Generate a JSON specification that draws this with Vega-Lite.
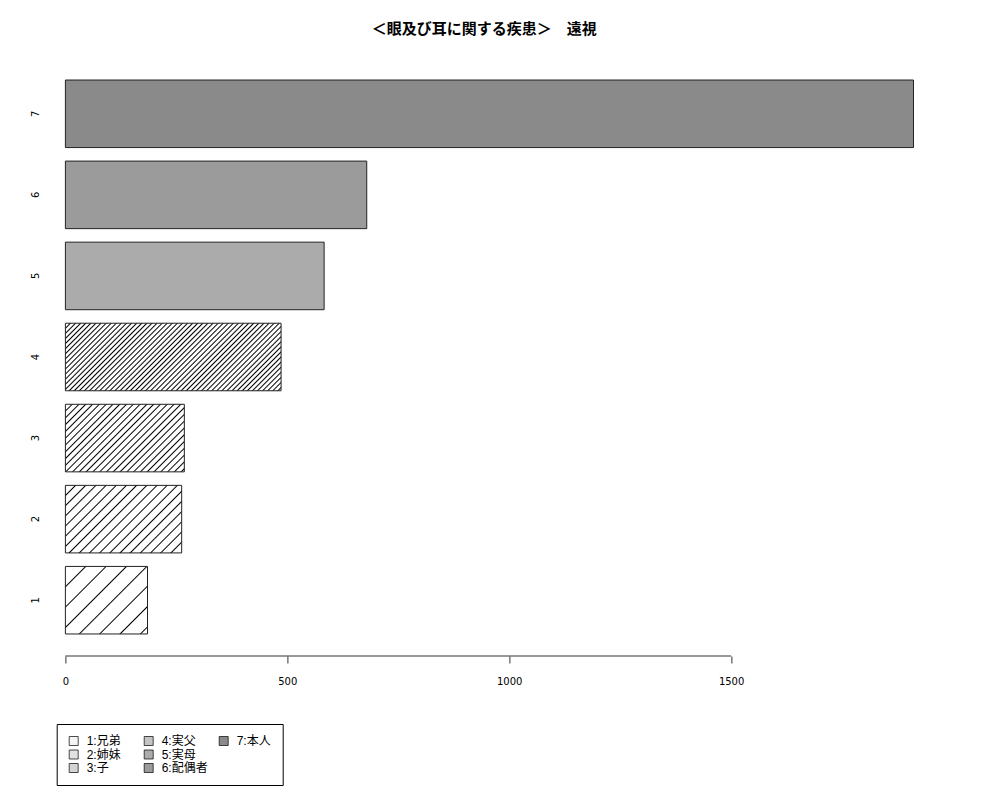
{
  "$schema": "https://vega.github.io/schema/vega-lite/v6.json",
  "width": 887.6,
  "height": 598,
  "autosize": {"type": "none"},
  "padding": {"left": 65.4, "top": 58, "right": 47, "bottom": 144},
  "title": {
    "text": "＜眼及び耳に関する疾患＞　遠視",
    "font": "Noto Sans CJK JP",
    "fontSize": 15,
    "fontWeight": "bold",
    "color": "#000",
    "anchor": "middle",
    "dx": -25,
    "offset": 21
  },
  "data": {
    "values": [
      {"k": "1", "label": "1:兄弟", "value": 185},
      {"k": "2", "label": "2:姉妹", "value": 262},
      {"k": "3", "label": "3:子", "value": 268},
      {"k": "4", "label": "4:実父", "value": 486},
      {"k": "5", "label": "5:実母", "value": 583},
      {"k": "6", "label": "6:配偶者", "value": 679},
      {"k": "7", "label": "7:本人", "value": 1911}
    ]
  },
  "layer": [
    {
      "mark": {"type": "bar", "stroke": "#222", "strokeWidth": 1},
      "encoding": {
        "y": {
          "field": "k",
          "type": "nominal",
          "sort": "descending",
          "scale": {"paddingInner": 0.1667, "paddingOuter": 0.2716},
          "axis": {
            "title": null,
            "domain": false,
            "ticks": false,
            "tickSize": 0,
            "labelAngle": -90,
            "labelAlign": "center",
            "labelBaseline": "bottom",
            "labelPadding": 25,
            "labelFont": "DejaVu Sans",
            "labelFontSize": 10,
            "labelColor": "#000"
          }
        },
        "x": {
          "field": "value",
          "type": "quantitative",
          "scale": {"domain": [0, 2000], "nice": false},
          "axis": {
            "title": null,
            "values": [0, 500, 1000, 1500],
            "format": "d",
            "domain": false,
            "grid": false,
            "tickSize": 7,
            "tickColor": "#333",
            "labelPadding": 13,
            "labelFlush": false,
            "labelFont": "DejaVu Sans",
            "labelFontSize": 10,
            "labelColor": "#000"
          }
        },
        "fill": {
          "condition": [
            {"test": "datum.k == '1'", "value": {"gradient": "linear", "x1": 0, "y1": 0, "x2": 1.1832, "y2": 0.9736, "stops": [
              {"offset": 0.1163, "color": "#fff"}, {"offset": 0.125, "color": "#000"}, {"offset": 0.1337, "color": "#fff"},
              {"offset": 0.2413, "color": "#fff"}, {"offset": 0.25, "color": "#000"}, {"offset": 0.2587, "color": "#fff"},
              {"offset": 0.3663, "color": "#fff"}, {"offset": 0.375, "color": "#000"}, {"offset": 0.3837, "color": "#fff"},
              {"offset": 0.4913, "color": "#fff"}, {"offset": 0.5, "color": "#000"}, {"offset": 0.5087, "color": "#fff"},
              {"offset": 0.6163, "color": "#fff"}, {"offset": 0.625, "color": "#000"}, {"offset": 0.6337, "color": "#fff"},
              {"offset": 0.7413, "color": "#fff"}, {"offset": 0.75, "color": "#000"}, {"offset": 0.7587, "color": "#fff"},
              {"offset": 0.8663, "color": "#fff"}, {"offset": 0.875, "color": "#000"}, {"offset": 0.8837, "color": "#fff"}
            ]}},
            {"test": "datum.k == '2'", "value": {"gradient": "linear", "x1": 0, "y1": 0, "x2": 1.1783, "y2": 0.6845, "stops": [
              {"offset": 0.0479, "color": "#fff"}, {"offset": 0.0556, "color": "#000"}, {"offset": 0.0633, "color": "#fff"},
              {"offset": 0.1034, "color": "#fff"}, {"offset": 0.1111, "color": "#000"}, {"offset": 0.1188, "color": "#fff"},
              {"offset": 0.159, "color": "#fff"}, {"offset": 0.1667, "color": "#000"}, {"offset": 0.1744, "color": "#fff"},
              {"offset": 0.2145, "color": "#fff"}, {"offset": 0.2222, "color": "#000"}, {"offset": 0.2299, "color": "#fff"},
              {"offset": 0.2701, "color": "#fff"}, {"offset": 0.2778, "color": "#000"}, {"offset": 0.2855, "color": "#fff"},
              {"offset": 0.3256, "color": "#fff"}, {"offset": 0.3333, "color": "#000"}, {"offset": 0.341, "color": "#fff"},
              {"offset": 0.3812, "color": "#fff"}, {"offset": 0.3889, "color": "#000"}, {"offset": 0.3966, "color": "#fff"},
              {"offset": 0.4367, "color": "#fff"}, {"offset": 0.4444, "color": "#000"}, {"offset": 0.4521, "color": "#fff"},
              {"offset": 0.4923, "color": "#fff"}, {"offset": 0.5, "color": "#000"}, {"offset": 0.5077, "color": "#fff"},
              {"offset": 0.5479, "color": "#fff"}, {"offset": 0.5556, "color": "#000"}, {"offset": 0.5633, "color": "#fff"},
              {"offset": 0.6034, "color": "#fff"}, {"offset": 0.6111, "color": "#000"}, {"offset": 0.6188, "color": "#fff"},
              {"offset": 0.659, "color": "#fff"}, {"offset": 0.6667, "color": "#000"}, {"offset": 0.6744, "color": "#fff"},
              {"offset": 0.7145, "color": "#fff"}, {"offset": 0.7222, "color": "#000"}, {"offset": 0.7299, "color": "#fff"},
              {"offset": 0.7701, "color": "#fff"}, {"offset": 0.7778, "color": "#000"}, {"offset": 0.7855, "color": "#fff"},
              {"offset": 0.8256, "color": "#fff"}, {"offset": 0.8333, "color": "#000"}, {"offset": 0.841, "color": "#fff"},
              {"offset": 0.8812, "color": "#fff"}, {"offset": 0.8889, "color": "#000"}, {"offset": 0.8966, "color": "#fff"},
              {"offset": 0.9367, "color": "#fff"}, {"offset": 0.9444, "color": "#000"}, {"offset": 0.9521, "color": "#fff"}
            ]}},
            {"test": "datum.k == '3'", "value": {"gradient": "linear", "x1": 0, "y1": 0, "x2": 1.2084, "y2": 0.6866, "stops": [
              {"offset": 0.0283, "color": "#fff"}, {"offset": 0.0357, "color": "#000"}, {"offset": 0.0431, "color": "#fff"},
              {"offset": 0.064, "color": "#fff"}, {"offset": 0.0714, "color": "#000"}, {"offset": 0.0788, "color": "#fff"},
              {"offset": 0.0997, "color": "#fff"}, {"offset": 0.1071, "color": "#000"}, {"offset": 0.1145, "color": "#fff"},
              {"offset": 0.1355, "color": "#fff"}, {"offset": 0.1429, "color": "#000"}, {"offset": 0.1503, "color": "#fff"},
              {"offset": 0.1712, "color": "#fff"}, {"offset": 0.1786, "color": "#000"}, {"offset": 0.186, "color": "#fff"},
              {"offset": 0.2069, "color": "#fff"}, {"offset": 0.2143, "color": "#000"}, {"offset": 0.2217, "color": "#fff"},
              {"offset": 0.2426, "color": "#fff"}, {"offset": 0.25, "color": "#000"}, {"offset": 0.2574, "color": "#fff"},
              {"offset": 0.2783, "color": "#fff"}, {"offset": 0.2857, "color": "#000"}, {"offset": 0.2931, "color": "#fff"},
              {"offset": 0.314, "color": "#fff"}, {"offset": 0.3214, "color": "#000"}, {"offset": 0.3288, "color": "#fff"},
              {"offset": 0.3497, "color": "#fff"}, {"offset": 0.3571, "color": "#000"}, {"offset": 0.3645, "color": "#fff"},
              {"offset": 0.3855, "color": "#fff"}, {"offset": 0.3929, "color": "#000"}, {"offset": 0.4003, "color": "#fff"},
              {"offset": 0.4212, "color": "#fff"}, {"offset": 0.4286, "color": "#000"}, {"offset": 0.436, "color": "#fff"},
              {"offset": 0.4569, "color": "#fff"}, {"offset": 0.4643, "color": "#000"}, {"offset": 0.4717, "color": "#fff"},
              {"offset": 0.4926, "color": "#fff"}, {"offset": 0.5, "color": "#000"}, {"offset": 0.5074, "color": "#fff"},
              {"offset": 0.5283, "color": "#fff"}, {"offset": 0.5357, "color": "#000"}, {"offset": 0.5431, "color": "#fff"},
              {"offset": 0.564, "color": "#fff"}, {"offset": 0.5714, "color": "#000"}, {"offset": 0.5788, "color": "#fff"},
              {"offset": 0.5997, "color": "#fff"}, {"offset": 0.6071, "color": "#000"}, {"offset": 0.6145, "color": "#fff"},
              {"offset": 0.6355, "color": "#fff"}, {"offset": 0.6429, "color": "#000"}, {"offset": 0.6503, "color": "#fff"},
              {"offset": 0.6712, "color": "#fff"}, {"offset": 0.6786, "color": "#000"}, {"offset": 0.686, "color": "#fff"},
              {"offset": 0.7069, "color": "#fff"}, {"offset": 0.7143, "color": "#000"}, {"offset": 0.7217, "color": "#fff"},
              {"offset": 0.7426, "color": "#fff"}, {"offset": 0.75, "color": "#000"}, {"offset": 0.7574, "color": "#fff"},
              {"offset": 0.7783, "color": "#fff"}, {"offset": 0.7857, "color": "#000"}, {"offset": 0.7931, "color": "#fff"},
              {"offset": 0.814, "color": "#fff"}, {"offset": 0.8214, "color": "#000"}, {"offset": 0.8288, "color": "#fff"},
              {"offset": 0.8497, "color": "#fff"}, {"offset": 0.8571, "color": "#000"}, {"offset": 0.8645, "color": "#fff"},
              {"offset": 0.8855, "color": "#fff"}, {"offset": 0.8929, "color": "#000"}, {"offset": 0.9003, "color": "#fff"},
              {"offset": 0.9212, "color": "#fff"}, {"offset": 0.9286, "color": "#000"}, {"offset": 0.936, "color": "#fff"},
              {"offset": 0.9569, "color": "#fff"}, {"offset": 0.9643, "color": "#000"}, {"offset": 0.9717, "color": "#fff"}
            ]}},
            {"test": "datum.k == '4'", "value": {"gradient": "linear", "x1": 0, "y1": 0, "x2": 1.2037, "y2": 0.377, "stops": [
              {"offset": 0.0129, "color": "#fff"}, {"offset": 0.0179, "color": "#000"}, {"offset": 0.0229, "color": "#fff"},
              {"offset": 0.0307, "color": "#fff"}, {"offset": 0.0357, "color": "#000"}, {"offset": 0.0407, "color": "#fff"},
              {"offset": 0.0486, "color": "#fff"}, {"offset": 0.0536, "color": "#000"}, {"offset": 0.0586, "color": "#fff"},
              {"offset": 0.0664, "color": "#fff"}, {"offset": 0.0714, "color": "#000"}, {"offset": 0.0764, "color": "#fff"},
              {"offset": 0.0843, "color": "#fff"}, {"offset": 0.0893, "color": "#000"}, {"offset": 0.0943, "color": "#fff"},
              {"offset": 0.1021, "color": "#fff"}, {"offset": 0.1071, "color": "#000"}, {"offset": 0.1121, "color": "#fff"},
              {"offset": 0.12, "color": "#fff"}, {"offset": 0.125, "color": "#000"}, {"offset": 0.13, "color": "#fff"},
              {"offset": 0.1379, "color": "#fff"}, {"offset": 0.1429, "color": "#000"}, {"offset": 0.1479, "color": "#fff"},
              {"offset": 0.1557, "color": "#fff"}, {"offset": 0.1607, "color": "#000"}, {"offset": 0.1657, "color": "#fff"},
              {"offset": 0.1736, "color": "#fff"}, {"offset": 0.1786, "color": "#000"}, {"offset": 0.1836, "color": "#fff"},
              {"offset": 0.1914, "color": "#fff"}, {"offset": 0.1964, "color": "#000"}, {"offset": 0.2014, "color": "#fff"},
              {"offset": 0.2093, "color": "#fff"}, {"offset": 0.2143, "color": "#000"}, {"offset": 0.2193, "color": "#fff"},
              {"offset": 0.2271, "color": "#fff"}, {"offset": 0.2321, "color": "#000"}, {"offset": 0.2371, "color": "#fff"},
              {"offset": 0.245, "color": "#fff"}, {"offset": 0.25, "color": "#000"}, {"offset": 0.255, "color": "#fff"},
              {"offset": 0.2629, "color": "#fff"}, {"offset": 0.2679, "color": "#000"}, {"offset": 0.2729, "color": "#fff"},
              {"offset": 0.2807, "color": "#fff"}, {"offset": 0.2857, "color": "#000"}, {"offset": 0.2907, "color": "#fff"},
              {"offset": 0.2986, "color": "#fff"}, {"offset": 0.3036, "color": "#000"}, {"offset": 0.3086, "color": "#fff"},
              {"offset": 0.3164, "color": "#fff"}, {"offset": 0.3214, "color": "#000"}, {"offset": 0.3264, "color": "#fff"},
              {"offset": 0.3343, "color": "#fff"}, {"offset": 0.3393, "color": "#000"}, {"offset": 0.3443, "color": "#fff"},
              {"offset": 0.3521, "color": "#fff"}, {"offset": 0.3571, "color": "#000"}, {"offset": 0.3621, "color": "#fff"},
              {"offset": 0.37, "color": "#fff"}, {"offset": 0.375, "color": "#000"}, {"offset": 0.38, "color": "#fff"},
              {"offset": 0.3879, "color": "#fff"}, {"offset": 0.3929, "color": "#000"}, {"offset": 0.3979, "color": "#fff"},
              {"offset": 0.4057, "color": "#fff"}, {"offset": 0.4107, "color": "#000"}, {"offset": 0.4157, "color": "#fff"},
              {"offset": 0.4236, "color": "#fff"}, {"offset": 0.4286, "color": "#000"}, {"offset": 0.4336, "color": "#fff"},
              {"offset": 0.4414, "color": "#fff"}, {"offset": 0.4464, "color": "#000"}, {"offset": 0.4514, "color": "#fff"},
              {"offset": 0.4593, "color": "#fff"}, {"offset": 0.4643, "color": "#000"}, {"offset": 0.4693, "color": "#fff"},
              {"offset": 0.4771, "color": "#fff"}, {"offset": 0.4821, "color": "#000"}, {"offset": 0.4871, "color": "#fff"},
              {"offset": 0.495, "color": "#fff"}, {"offset": 0.5, "color": "#000"}, {"offset": 0.505, "color": "#fff"},
              {"offset": 0.5129, "color": "#fff"}, {"offset": 0.5179, "color": "#000"}, {"offset": 0.5229, "color": "#fff"},
              {"offset": 0.5307, "color": "#fff"}, {"offset": 0.5357, "color": "#000"}, {"offset": 0.5407, "color": "#fff"},
              {"offset": 0.5486, "color": "#fff"}, {"offset": 0.5536, "color": "#000"}, {"offset": 0.5586, "color": "#fff"},
              {"offset": 0.5664, "color": "#fff"}, {"offset": 0.5714, "color": "#000"}, {"offset": 0.5764, "color": "#fff"},
              {"offset": 0.5843, "color": "#fff"}, {"offset": 0.5893, "color": "#000"}, {"offset": 0.5943, "color": "#fff"},
              {"offset": 0.6021, "color": "#fff"}, {"offset": 0.6071, "color": "#000"}, {"offset": 0.6121, "color": "#fff"},
              {"offset": 0.62, "color": "#fff"}, {"offset": 0.625, "color": "#000"}, {"offset": 0.63, "color": "#fff"},
              {"offset": 0.6379, "color": "#fff"}, {"offset": 0.6429, "color": "#000"}, {"offset": 0.6479, "color": "#fff"},
              {"offset": 0.6557, "color": "#fff"}, {"offset": 0.6607, "color": "#000"}, {"offset": 0.6657, "color": "#fff"},
              {"offset": 0.6736, "color": "#fff"}, {"offset": 0.6786, "color": "#000"}, {"offset": 0.6836, "color": "#fff"},
              {"offset": 0.6914, "color": "#fff"}, {"offset": 0.6964, "color": "#000"}, {"offset": 0.7014, "color": "#fff"},
              {"offset": 0.7093, "color": "#fff"}, {"offset": 0.7143, "color": "#000"}, {"offset": 0.7193, "color": "#fff"},
              {"offset": 0.7271, "color": "#fff"}, {"offset": 0.7321, "color": "#000"}, {"offset": 0.7371, "color": "#fff"},
              {"offset": 0.745, "color": "#fff"}, {"offset": 0.75, "color": "#000"}, {"offset": 0.755, "color": "#fff"},
              {"offset": 0.7629, "color": "#fff"}, {"offset": 0.7679, "color": "#000"}, {"offset": 0.7729, "color": "#fff"},
              {"offset": 0.7807, "color": "#fff"}, {"offset": 0.7857, "color": "#000"}, {"offset": 0.7907, "color": "#fff"},
              {"offset": 0.7986, "color": "#fff"}, {"offset": 0.8036, "color": "#000"}, {"offset": 0.8086, "color": "#fff"},
              {"offset": 0.8164, "color": "#fff"}, {"offset": 0.8214, "color": "#000"}, {"offset": 0.8264, "color": "#fff"},
              {"offset": 0.8343, "color": "#fff"}, {"offset": 0.8393, "color": "#000"}, {"offset": 0.8443, "color": "#fff"},
              {"offset": 0.8521, "color": "#fff"}, {"offset": 0.8571, "color": "#000"}, {"offset": 0.8621, "color": "#fff"},
              {"offset": 0.87, "color": "#fff"}, {"offset": 0.875, "color": "#000"}, {"offset": 0.88, "color": "#fff"},
              {"offset": 0.8879, "color": "#fff"}, {"offset": 0.8929, "color": "#000"}, {"offset": 0.8979, "color": "#fff"},
              {"offset": 0.9057, "color": "#fff"}, {"offset": 0.9107, "color": "#000"}, {"offset": 0.9157, "color": "#fff"},
              {"offset": 0.9236, "color": "#fff"}, {"offset": 0.9286, "color": "#000"}, {"offset": 0.9336, "color": "#fff"},
              {"offset": 0.9414, "color": "#fff"}, {"offset": 0.9464, "color": "#000"}, {"offset": 0.9514, "color": "#fff"},
              {"offset": 0.9593, "color": "#fff"}, {"offset": 0.9643, "color": "#000"}, {"offset": 0.9693, "color": "#fff"},
              {"offset": 0.9771, "color": "#fff"}, {"offset": 0.9821, "color": "#000"}, {"offset": 0.9871, "color": "#fff"}
            ]}},
            {"test": "datum.k == '5'", "value": "#ababab"},
            {"test": "datum.k == '6'", "value": "#9b9b9b"}
          ],
          "value": "#8a8a8a"
        }
      }
    },
    {
      "mark": {"type": "square"},
      "encoding": {
        "y": {"field": "k", "type": "nominal", "sort": "descending"},
        "x": {"field": "value", "type": "quantitative"},
        "opacity": {"value": 0},
        "color": {
          "field": "label",
          "type": "nominal",
          "scale": {
            "domain": ["1:兄弟", "2:姉妹", "3:子", "4:実父", "5:実母", "6:配偶者", "7:本人", " ", "  "],
            "range": ["#f4f4f4", "#e2e2e2", "#d4d4d4", "#c4c4c4", "#ababab", "#9b9b9b", "#8a8a8a", "#ffffff", "#ffffff"]
          },
          "legend": {
            "title": null,
            "orient": "none",
            "legendX": -8.7,
            "legendY": 666,
            "columns": 3,
            "gridAlign": "all",
            "columnPadding": 9,
            "rowPadding": 1.5,
            "padding": 11,
            "strokeColor": "#000",
            "fillColor": "#fff",
            "symbolType": "square",
            "symbolSize": 81,
            "symbolStrokeColor": "#000",
            "symbolStrokeWidth": 0.7,
            "symbolOpacity": 1,
            "labelFont": "Liberation Sans, Noto Sans CJK JP",
            "labelFontSize": 12,
            "labelColor": "#000",
            "labelOffset": 7,
            "labelLimit": 200,
            "encode": {
              "symbols": {"update": {"opacity": {"signal": "length(trim(datum.value)) > 0 ? 1 : 0"}}}
            }
          }
        }
      }
    },
    {
      "data": {"values": [{}]},
      "mark": {"type": "rule", "color": "#333", "strokeWidth": 1},
      "encoding": {
        "x": {"datum": 0},
        "x2": {"datum": 1500},
        "y": {"value": "height"}
      }
    }
  ],
  "config": {
    "view": {"stroke": null},
    "font": "Liberation Sans"
  }
}
